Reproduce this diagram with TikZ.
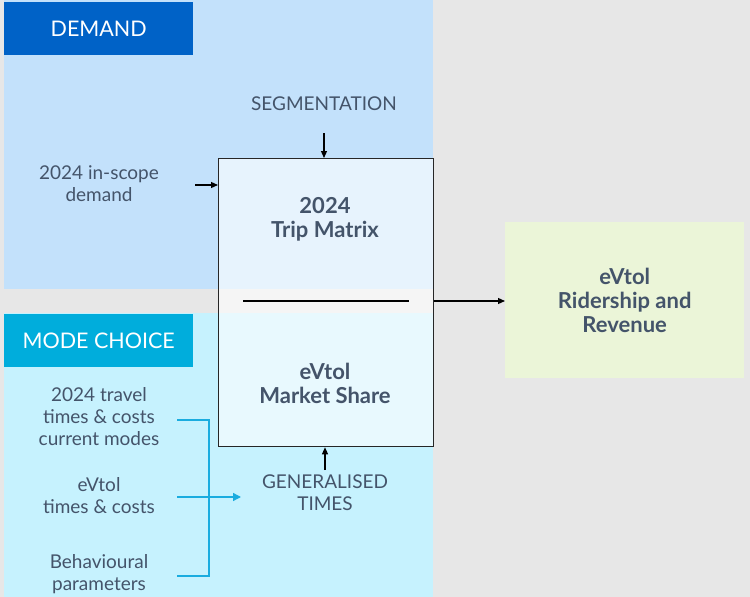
\documentclass[tikz,border=0pt]{standalone}
\usepackage{fontspec}
\setmainfont{Lato}
\usetikzlibrary{arrows.meta}
\definecolor{pagegray}{HTML}{E7E7E7}
\definecolor{demandbg}{HTML}{C3E1FB}
\definecolor{modebg}{HTML}{C6F2FE}
\definecolor{demandhead}{HTML}{0062C7}
\definecolor{modehead}{HTML}{00ADDC}
\definecolor{resultbg}{HTML}{EBF5D8}
\definecolor{slate}{HTML}{44546A}
\definecolor{bracketcyan}{HTML}{1AACDF}
\tikzset{
  head/.style={anchor=north west,text=white,minimum width=189pt,
    minimum height=53pt,inner sep=0pt,font=\fontsize{21.5}{24}\selectfont},
  note/.style={text=slate,align=center,font=\fontsize{19}{22}\selectfont},
  title/.style={note,font=\fontsize{22}{24}\selectfont\bfseries},
  arr/.style={line width=1.2pt,-{Triangle[length=7pt,width=6pt]}},
  bracket/.style={bracketcyan,line width=1.4pt}
}
\begin{document}
\begin{tikzpicture}[x=1pt,y=-1pt]
  \fill[pagegray] (0,0) rectangle (750,597);
  \useasboundingbox (0,0) rectangle (750,597);
  % panels
  \fill[demandbg] (4,0) rectangle (433,289);
  \fill[modebg] (4,313) rectangle (433,597);
  \node[head,fill=demandhead] (demand) at (4,2) {DEMAND};
  \node[head,fill=modehead] (mode) at (4,314) {MODE CHOICE};
  % model box
  \node[draw=black!85,line width=1.3pt,fill=white,fill opacity=0.6,
    anchor=north west,minimum width=215pt,minimum height=288pt]
    (model) at (218,158) {};
  \draw[line width=1.2pt] (243,301) -- (409,301);
  \node[title] (trip) at (325,219) {2024\\Trip Matrix};
  \node[title] (share) at (325,383) {eVtol\\Market Share};
  \node[draw=none,fill=resultbg,anchor=north west,minimum width=239pt,
    minimum height=156pt] (result) at (505,222) {};
  \node[title] at (result) {eVtol\\Ridership and\\Revenue};
  % inputs
  \node[note] (seg) at (324,104) {SEGMENTATION};
  \node[note] (scope) at (99,184) {2024 in-scope\\demand};
  \node[note] (gen) at (325,493) {GENERALISED\\TIMES};
  \node[note] (travel) at (99,417) {2024 travel\\times \& costs\\current modes};
  \node[note] (evtol) at (99,496) {eVtol\\times \& costs};
  \node[note] (behav) at (99,574) {Behavioural\\parameters};
  \coordinate (segfoot) at (324,133);
  \coordinate (scopefoot) at (195,185);
  \coordinate (genfoot) at (325,470);
  \draw[arr] (segfoot) -- (model.north -| segfoot);
  \draw[arr] (scopefoot) -- (model.west |- scopefoot);
  \draw[arr] (genfoot) -- (model.south -| genfoot);
  \draw[arr] (model.east |- 0,301) -- (result.west |- 0,301);
  % bracket
  \draw[bracket] (177,420) -- (209,420) -- (209,576) -- (177,576);
  \draw[bracket,-{Triangle[length=8pt,width=8pt]}] (177,497) -- (241,497);
\end{tikzpicture}
\end{document}
